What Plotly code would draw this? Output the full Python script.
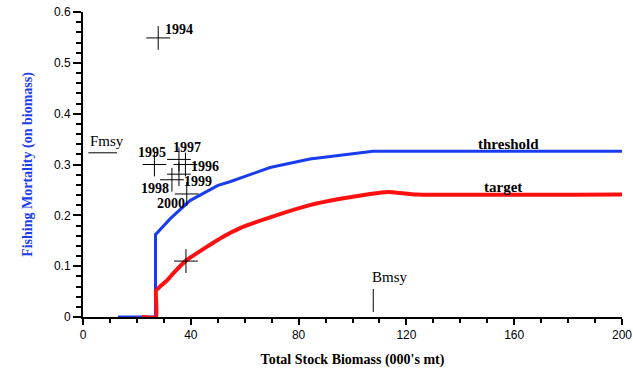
import plotly.graph_objects as go

# control rule curves (biomass in 000's mt, F on biomass)
threshold_x = [13.0, 26.9, 26.9, 32.3, 39.7, 50.1, 54.5, 69.4, 84.2, 107.6, 200.0]
threshold_y = [0.0, 0.0, 0.162, 0.193, 0.229, 0.259, 0.266, 0.294, 0.311, 0.326, 0.326]

target_x = [21.8, 27.1, 27.1, 28.6, 31.0, 33.5, 38.2, 45.9, 52.0, 58.3, 70.0, 84.2, 95.0,
            106.5, 113.2, 123.8, 200.0]
target_y = [0.0, 0.0, 0.052, 0.060, 0.071, 0.086, 0.111, 0.138, 0.158, 0.175, 0.197, 0.220,
            0.232, 0.242, 0.246, 0.241, 0.241]

# observed stock status by year
obs_years = ["1994", "1995", "1996", "1997", "1998", "1999", "2000", ""]
obs_x = [27.9, 26.5, 38.0, 35.6, 33.0, 35.6, 38.5, 38.2]
obs_y = [0.549, 0.300, 0.300, 0.310, 0.270, 0.281, 0.242, 0.110]

fmsy = 0.323
bmsy = 107.7

# label offsets in pixels (x, y)
offsets = [(21, 8), (-2, 12), (20, -2), (8, 12), (-17, -9), (19, -7), (-16, -10), (0, 0)]

fig = go.Figure()

fig.add_trace(go.Scatter(x=threshold_x, y=threshold_y, mode="lines",
                         line=dict(color="#1a3cf0", width=3), hoverinfo="skip"))
fig.add_trace(go.Scatter(x=target_x, y=target_y, mode="lines",
                         line=dict(color="#ff1010", width=4, shape="spline", smoothing=0.4),
                         hoverinfo="skip"))
fig.add_trace(go.Scatter(x=obs_x, y=obs_y, mode="markers",
                         marker=dict(symbol="cross-thin", size=17,
                                     line=dict(color="black", width=1))))

# Fmsy / Bmsy reference marks
fig.add_trace(go.Scatter(x=[2.0, 12.6], y=[fmsy, fmsy], mode="lines",
                         line=dict(color="black", width=1)))
fig.add_trace(go.Scatter(x=[bmsy, bmsy], y=[0.01, 0.055], mode="lines",
                         line=dict(color="black", width=1)))

serif = "Liberation Serif, Times New Roman, serif"
for yr, x, y, (dx, dy) in zip(obs_years, obs_x, obs_y, offsets):
    if yr:
        fig.add_annotation(x=x, y=y, text=f"<b>{yr}</b>", showarrow=False,
                           xshift=dx, yshift=dy,
                           font=dict(family=serif, size=14, color="black"))

fig.add_annotation(x=2.0, y=fmsy, text="Fmsy", showarrow=False, xanchor="left",
                   yanchor="bottom", yshift=2, font=dict(family=serif, size=15, color="black"))
fig.add_annotation(x=bmsy, y=0.055, text="Bmsy", showarrow=False, xanchor="left",
                   yanchor="bottom", xshift=-3, yshift=2,
                   font=dict(family=serif, size=15, color="black"))
fig.add_annotation(x=158, y=0.326, text="<b>threshold</b>", showarrow=False,
                   yanchor="bottom", yshift=-3, font=dict(family=serif, size=15, color="black"))
fig.add_annotation(x=156, y=0.241, text="<b>target</b>", showarrow=False,
                   yanchor="bottom", yshift=-3, font=dict(family=serif, size=15, color="black"))

fig.update_layout(
    width=633, height=368,
    margin=dict(l=83, r=11, t=12, b=51, autoexpand=False),
    plot_bgcolor="white", paper_bgcolor="white",
    showlegend=False,
    font=dict(family="Liberation Sans, Arial, sans-serif", size=12, color="black"),
)
fig.update_xaxes(
    range=[0, 200], tick0=0, dtick=40, showgrid=False, zeroline=False,
    showline=True, linecolor="black", linewidth=2, layer="below traces",
    ticks="outside", ticklen=6, tickwidth=2, tickcolor="black", automargin=False,
    minor=dict(dtick=10, ticks="outside", ticklen=4, tickwidth=2, tickcolor="black"),
    title=dict(text="<b>Total Stock Biomass (000's mt)</b>", standoff=14,
               font=dict(family=serif, size=14, color="black")),
)
fig.update_yaxes(
    range=[0, 0.6], tick0=0, dtick=0.1, showgrid=False, zeroline=False,
    showline=True, linecolor="black", linewidth=2, layer="below traces",
    ticks="outside", ticklen=8, tickwidth=2, tickcolor="black", automargin=False,
    minor=dict(dtick=0.02, ticks="outside", ticklen=5, tickwidth=2, tickcolor="black"),
    title=dict(text="<b>Fishing Mortality (on biomass)</b>", standoff=18,
               font=dict(family=serif, size=14, color="#1a3cf0")),
)

# drop the default page margin so the figure fills the window exactly
fig.write_html("out.html", config={"displayModeBar": False},
               post_script="document.body.style.margin='0';")
